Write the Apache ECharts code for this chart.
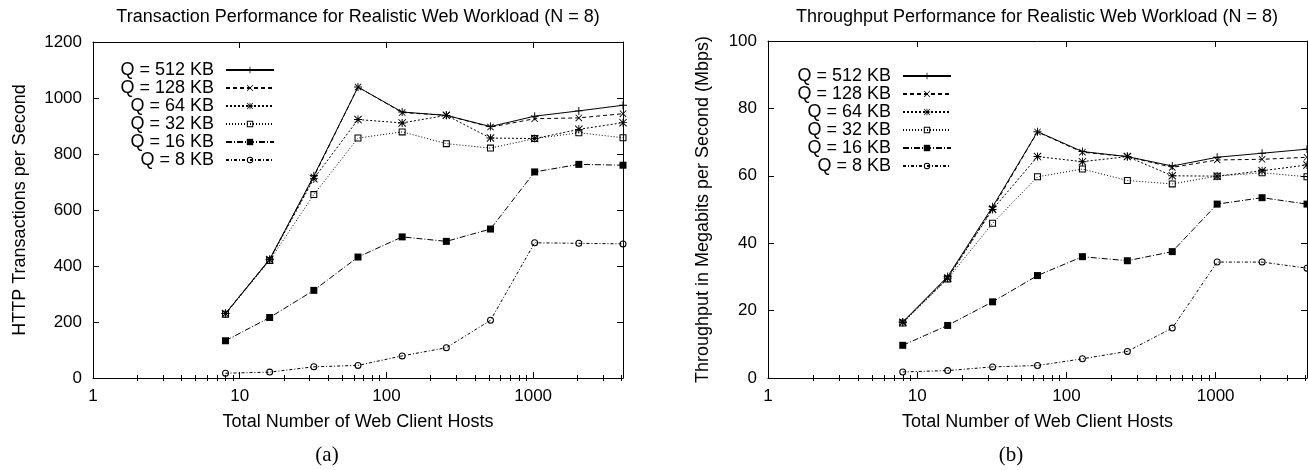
<!DOCTYPE html>
<html>
<head>
<meta charset="utf-8">
<script src="https://cdn.jsdelivr.net/npm/echarts@6/dist/echarts.min.js"></script>
<style>
html,body{margin:0;padding:0;background:#fff;}
#chart{width:1308px;height:470px;}
</style>
</head>
<body>
<div id="chart"></div>
<script>
// ---- data ----
const hosts = [8, 16, 32, 64, 128, 256, 512, 1024, 2048, 4096];
const seriesNames = ['Q = 512 KB', 'Q = 128 KB', 'Q = 64 KB', 'Q = 32 KB', 'Q = 16 KB', 'Q = 8 KB'];

// (a) HTTP transactions per second
const txnQ512 = [230, 424, 722, 1039, 950, 938, 898, 935, 954, 974];
const txnQ128 = [230, 424, 718, 1039, 948, 938, 896, 926, 929, 944];
const txnQ64  = [230, 422, 712, 923, 911, 938, 857, 855, 888, 912];
const txnQ32  = [228, 420, 655, 857, 879, 837, 821, 855, 876, 858];
const txnQ16  = [133, 216, 313, 432, 504, 488, 532, 736, 763, 760];
const txnQ8   = [17, 21, 40, 45, 79, 108, 206, 483, 481, 479];

// (b) Throughput in Mbps
const thrQ512 = [16.6, 30.1, 50.8, 73.1, 67.2, 65.7, 62.9, 65.5, 66.7, 67.9];
const thrQ128 = [16.6, 29.8, 50.3, 73.0, 67.0, 65.7, 62.5, 64.7, 64.9, 65.5];
const thrQ64  = [16.5, 29.6, 50.0, 65.7, 64.2, 65.7, 60.0, 59.9, 61.5, 63.2];
const thrQ32  = [16.3, 29.4, 45.9, 59.7, 62.0, 58.6, 57.6, 59.9, 60.9, 59.7];
const thrQ16  = [9.7, 15.6, 22.6, 30.4, 36.0, 34.8, 37.5, 51.6, 53.5, 51.6];
const thrQ8   = [1.8, 2.2, 3.3, 3.7, 5.7, 7.9, 14.8, 34.4, 34.4, 32.6];

const xMajorTicks = [1, 10, 100, 1000];
const xMinorTicks = [2,3,4,5,6,7,8,9,20,30,40,50,60,70,80,90,200,300,400,500,600,700,800,900,2000,3000,4000];

const titleA = 'Transaction Performance for Realistic Web Workload (N = 8)';
const titleB = 'Throughput Performance for Realistic Web Workload (N = 8)';
const xName = 'Total Number of Web Client Hosts';
const yNameA = 'HTTP Transactions per Second';
const yNameB = 'Throughput in Megabits per Second (Mbps)';

// ---- styles ----
const FONT = 'Liberation Sans';
const PLUS = 'path://M4.4,0H5.6V10H4.4Z M0,4.4H10V5.6H0Z';
const CROSS = 'path://M0,0.85L0.85,0L10,9.15L9.15,10Z M10,0.85L0.85,10L0,9.15L9.15,0Z';
const STAR = 'path://M4.4,0H5.6V10H4.4Z M0,4.4H10V5.6H0Z M0,0.85L0.85,0L10,9.15L9.15,10Z M10,0.85L0.85,10L0,9.15L9.15,0Z';
const OPEN_SQ = 'path://M0,0H10V10H0Z M1.5,1.5V8.5H8.5V1.5Z';
const OPEN_CIRC = 'path://M0,5A5,5,0,1,1,10,5A5,5,0,1,1,0,5Z M1.5,5A3.5,3.5,0,1,0,8.5,5A3.5,3.5,0,1,0,1.5,5Z';
const styles = [
  { symbol: PLUS,  size: 8, dash: 'solid' },
  { symbol: CROSS, size: 7, dash: [4, 3] },
  { symbol: STAR,  size: 8, dash: [2, 2] },
  { symbol: OPEN_SQ, size: 7, dash: [1, 2] },
  { symbol: 'rect', size: 7, dash: [6, 2, 1, 2] },
  { symbol: OPEN_CIRC, size: 7, dash: [3, 2, 1, 2] }
];

function makeSeries(valsList, xIdx, yIdx) {
  return valsList.map((vals, k) => ({
    name: seriesNames[k],
    type: 'line',
    xAxisIndex: xIdx,
    yAxisIndex: yIdx,
    data: hosts.map((h, i) => [h, vals[i]]),
    symbol: styles[k].symbol,
    symbolSize: styles[k].size,
    showAllSymbol: true,
    lineStyle: { color: '#000', width: 1, type: styles[k].dash },
    itemStyle: { color: '#000', borderWidth: 0 },
    emphasis: { disabled: true },
    z: 10 - k
  }));
}

function xAxes(gridIndex, minX, maxX) {
  const base = {
    type: 'log', logBase: 10, gridIndex: gridIndex, min: minX, max: maxX,
    splitLine: { show: false }, minorTick: { show: false }, minorSplitLine: { show: false }
  };
  const line = { show: true, onZero: false, lineStyle: { color: '#000', width: 1 } };
  return [
    Object.assign({}, base, {
      position: 'bottom', axisLine: line,
      axisTick: { show: true, inside: true, length: 6, lineStyle: { color: '#000' }, customValues: xMajorTicks },
      axisLabel: { show: true, customValues: xMajorTicks, margin: 10, color: '#000', fontSize: 17, fontFamily: FONT,
                   formatter: v => String(Math.round(v)) },
      name: xName, nameLocation: 'middle', nameGap: 35,
      nameTextStyle: { color: '#000', fontSize: 18, fontFamily: FONT }
    }),
    Object.assign({}, base, {
      position: 'bottom', axisLine: { show: false },
      axisTick: { show: true, inside: true, length: 3, lineStyle: { color: '#000' }, customValues: xMinorTicks },
      axisLabel: { show: false }
    }),
    Object.assign({}, base, {
      position: 'top', axisLine: line,
      axisTick: { show: true, inside: true, length: 6, lineStyle: { color: '#000' }, customValues: xMajorTicks },
      axisLabel: { show: false }
    }),
    Object.assign({}, base, {
      position: 'top', axisLine: { show: false },
      axisTick: { show: true, inside: true, length: 3, lineStyle: { color: '#000' }, customValues: xMinorTicks },
      axisLabel: { show: false }
    })
  ];
}

function yAxes(gridIndex, maxY, step, name, gap) {
  const base = {
    type: 'value', gridIndex: gridIndex, min: 0, max: maxY, interval: step,
    splitLine: { show: false },
    axisLine: { show: true, onZero: false, lineStyle: { color: '#000', width: 1 } },
    axisTick: { show: true, inside: true, length: 6, lineStyle: { color: '#000' } }
  };
  return [
    Object.assign({}, base, {
      position: 'left',
      axisLabel: { show: true, margin: 11, color: '#000', fontSize: 17, fontFamily: FONT,
                   formatter: v => String(v) },
      name: name, nameLocation: 'middle', nameGap: gap,
      nameTextStyle: { color: '#000', fontSize: 18, fontFamily: FONT }
    }),
    Object.assign({}, base, { position: 'right', axisLabel: { show: false } })
  ];
}

const legendCommon = {
  data: seriesNames, orient: 'vertical', align: 'right', padding: 0,
  itemWidth: 48, itemHeight: 8, itemGap: 0, selectedMode: false,
  textStyle: { color: '#000', fontSize: 18, fontFamily: FONT, lineHeight: 17.4, padding: [0, 7, 0, 0] }
};

const chart = echarts.init(document.getElementById('chart'), null, { renderer: 'canvas' });
chart.setOption({
  animation: false,
  backgroundColor: '#fff',
  title: [
    { text: titleA, left: 358, top: 8, textAlign: 'center', padding: 0,
      textStyle: { color: '#000', fontSize: 18, fontWeight: 'normal', fontFamily: FONT } },
    { text: titleB, left: 1037, top: 8, textAlign: 'center', padding: 0,
      textStyle: { color: '#000', fontSize: 18, fontWeight: 'normal', fontFamily: FONT } },
    { text: '(a)', left: 327, top: 445, textAlign: 'center', padding: 0,
      textStyle: { color: '#000', fontSize: 21, fontWeight: 'normal', fontFamily: 'Liberation Serif' } },
    { text: '(b)', left: 1011, top: 445, textAlign: 'center', padding: 0,
      textStyle: { color: '#000', fontSize: 21, fontWeight: 'normal', fontFamily: 'Liberation Serif' } }
  ],
  legend: [
    Object.assign({}, legendCommon, { right: 1033, top: 61 }),
    Object.assign({}, legendCommon, { right: 356, top: 67 })
  ],
  grid: [
    { left: 93, top: 42, width: 530, height: 336 },
    { left: 768, top: 41, width: 539, height: 337 }
  ],
  xAxis: xAxes(0, 1, 4096).concat(xAxes(1, 1, 4096)),
  yAxis: yAxes(0, 1200, 200, yNameA, 64).concat(yAxes(1, 100, 20, yNameB, 56)),
  series: makeSeries([txnQ512, txnQ128, txnQ64, txnQ32, txnQ16, txnQ8], 0, 0)
    .concat(makeSeries([thrQ512, thrQ128, thrQ64, thrQ32, thrQ16, thrQ8], 4, 2))
});
</script>
</body>
</html>
